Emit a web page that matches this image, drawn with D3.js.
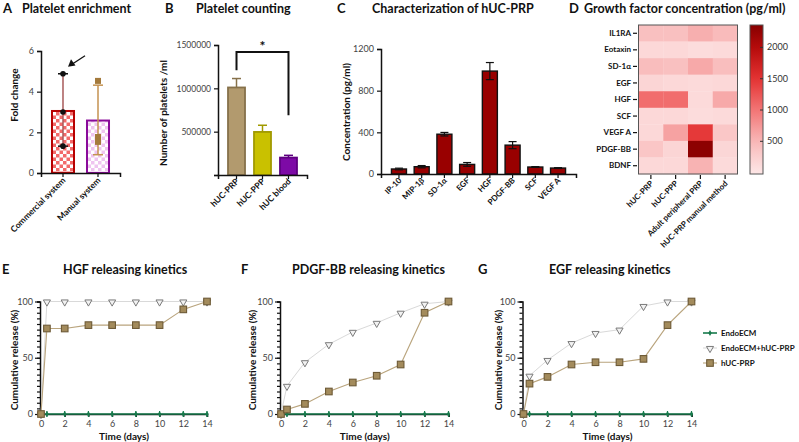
<!DOCTYPE html>
<html><head><meta charset="utf-8">
<script src="https://cdn.jsdelivr.net/npm/d3@7"></script>
<style>
body{margin:0;background:#fff;}
text{font-family:Lato,"Open Sans",sans-serif;}
</style></head><body>
<svg id="c" width="799" height="442"></svg>
<script>
// ---------- data ----------
const aCategories = ["Commercial system", "Manual system"];
const aMeans = [3.05, 2.58];
const aErrLow = [1.32, 0.9];
const aErrHigh = [4.88, 4.32];
const aPointsCommercial = [4.88, 3.0, 1.32];
const aPointsManual = [4.53, 1.77, 1.53];
const aTicks = [0, 2, 4, 6];

const bCategories = ["hUC-PRP", "hUC-PPP", "hUC blood"];
const bMeans = [1010000, 497000, 201000];
const bErr = [103000, 77000, 26000];
const bTicks = [0, 500000, 1000000, 1500000];

const cCategories = ["IP-10", "MIP-1β", "SD-1α", "EGF", "HGF", "PDGF-BB", "SCF", "VEGF A"];
const cMeans = [48, 70, 382, 92, 988, 277, 67, 57];
const cErr = [8, 11, 17, 18, 82, 34, 4, 4];
const cTicks = [0, 400, 800, 1200];

const dRows = ["IL1RA", "Eotaxin", "SD-1α", "EGF", "HGF", "SCF", "VEGF A", "PDGF-BB", "BDNF"];
const dCols = ["hUC-PRP", "hUC-PPP", "Adult peripheral PRP", "hUC-PRP manual method"];
const dValues = [
  [400, 400, 550, 450],
  [150, 150, 100, 130],
  [430, 400, 600, 420],
  [180, 150, 130, 150],
  [1050, 1050, 130, 600],
  [150, 150, 100, 130],
  [150, 650, 1450, 320],
  [330, 180, 2300, 170],
  [150, 150, 520, 120]
];
const dTicks = [500, 1000, 1500, 2000];

const days = [0, 0.5, 2, 4, 6, 8, 10, 12, 14];
const hgfEndo = [0, 0, 0, 0, 0, 0, 0, 0, 0];
const hgfEndoPrp = [0, 100, 100, 100, 100, 100, 100, 100, 100];
const hgfPrp = [0, 76, 76, 79, 79, 79, 79, 93, 100];
const pdgfEndo = [0, 0, 0, 0, 0, 0, 0, 0, 0];
const pdgfEndoPrp = [0, 25, 46, 62, 73, 81, 90, 98, 100];
const pdgfPrp = [0, 4, 9, 20, 28, 34, 44, 90, 100];
const egfEndo = [0, 0, 0, 0, 0, 0, 0, 0, 0];
const egfEndoPrp = [0, 34, 48, 63, 72, 75, 96, 100, 100];
const egfPrp = [0, 27, 33, 44, 46, 46, 49, 79, 100];
const kTicks = [0, 2, 4, 6, 8, 10, 12, 14];
const kYTicks = [0, 50, 100];
const seriesNames = ["EndoECM", "EndoECM+hUC-PRP", "hUC-PRP"];

// ---------- helpers ----------
const svg = d3.select("#c");
svg.append("rect").attr("width", 799).attr("height", 442).attr("fill", "#fff");
const defs = svg.append("defs");
const fmt = d3.format("d");

function styleAxis(g, fs) {
  g.select(".domain").attr("stroke", "#111").attr("stroke-width", 1.5);
  g.selectAll(".tick line").attr("stroke", "#111").attr("stroke-width", 1.2);
  g.selectAll(".tick text").attr("fill", "#444").attr("font-size", fs || 9)
    .style("font-family", "Lato, sans-serif");
}
function title(letter, lx, text, tx, y) {
  svg.append("text").attr("x", lx).attr("y", y).attr("font-weight", 700)
    .attr("font-size", 13).attr("fill", "#111").text(letter);
  svg.append("text").attr("x", tx).attr("y", y).attr("font-weight", 700)
    .attr("font-size", 12.5).attr("fill", "#111").text(text);
}
function yTitle(text, x, y) {
  svg.append("text").attr("transform", `translate(${x},${y}) rotate(-90)`)
    .attr("text-anchor", "middle").attr("font-weight", 700).attr("font-size", 10)
    .attr("fill", "#111").text(text);
}
function rotLabels(g, cats, xf, y, fs) {
  g.selectAll(null).data(cats).join("text")
    .attr("transform", d => `translate(${xf(d) + 3},${y}) rotate(-45)`)
    .attr("text-anchor", "end").attr("font-weight", 700).attr("font-size", fs)
    .attr("fill", "#111").text(d => d);
}
function checker(id, color) {
  const p = defs.append("pattern").attr("id", id).attr("width", 7).attr("height", 7)
    .attr("patternUnits", "userSpaceOnUse");
  p.append("rect").attr("width", 7).attr("height", 7).attr("fill", "#fff");
  p.append("rect").attr("width", 3.5).attr("height", 3.5).attr("fill", color);
  p.append("rect").attr("x", 3.5).attr("y", 3.5).attr("width", 3.5).attr("height", 3.5).attr("fill", color);
}
checker("chkRed", "#f26a6a");
checker("chkPur", "#efc4f0");

// ---------- Panel A ----------
title("A", 3, "Platelet enrichment", 22, 13);
{
  const g = svg.append("g");
  const y = d3.scaleLinear().domain([0, 6]).range([173, 51]);
  const x = d3.scaleBand().domain(aCategories).range([41, 120]).paddingInner(0.371).paddingOuter(0.314);
  const xc = d => x(d) + x.bandwidth() / 2;
  const fills = ["url(#chkRed)", "url(#chkPur)"];
  const strokes = ["#b80000", "#8a0a9a"];
  const errCol = ["#a85a5a", "#c49250"];
  g.selectAll(null).data(aCategories).join("rect")
    .attr("x", d => x(d)).attr("width", x.bandwidth())
    .attr("y", (d, i) => y(aMeans[i])).attr("height", (d, i) => y(0) - y(aMeans[i]))
    .attr("fill", (d, i) => fills[i]).attr("stroke", (d, i) => strokes[i]).attr("stroke-width", 2);
  aCategories.forEach((d, i) => {
    const cx = xc(d);
    g.append("line").attr("x1", cx).attr("x2", cx).attr("y1", y(aErrLow[i])).attr("y2", y(aErrHigh[i]))
      .attr("stroke", errCol[i]).attr("stroke-width", 1.5);
    [aErrLow[i], aErrHigh[i]].forEach(v => g.append("line").attr("x1", cx - 5).attr("x2", cx + 5)
      .attr("y1", y(v)).attr("y2", y(v)).attr("stroke", i === 0 ? "#111" : errCol[i]).attr("stroke-width", 1.5));
  });
  g.selectAll(null).data(aPointsCommercial).join("circle")
    .attr("cx", xc(aCategories[0])).attr("cy", d => y(d)).attr("r", 2.8).attr("fill", "#111");
  g.selectAll(null).data(aPointsManual).join("rect")
    .attr("x", xc(aCategories[1]) - 3).attr("y", d => y(d) - 3).attr("width", 6).attr("height", 6)
    .attr("fill", "#a47a3c");
  const ax = g.append("g").attr("transform", "translate(41,0)")
    .call(d3.axisLeft(y).tickValues(aTicks).tickSize(4).tickPadding(3).tickFormat(fmt));
  styleAxis(ax);
  const bx = g.append("g").attr("transform", `translate(0,${y(0)})`)
    .call(d3.axisBottom(x).tickSize(4).tickFormat(""));
  styleAxis(bx);
  rotLabels(g, aCategories, xc, 181, 8.5);
  // arrow annotation
  const tx = xc(aCategories[0]) + 5, ty = y(aPointsCommercial[0]) - 7;
  g.append("line").attr("x1", tx + 17).attr("y1", ty - 11).attr("x2", tx + 4).attr("y2", ty - 2.6)
    .attr("stroke", "#111").attr("stroke-width", 1.3);
  g.append("path").attr("d", `M${tx},${ty} L${tx + 3},${ty - 7.5} L${tx + 7.5},${ty - 1.2} Z`).attr("fill", "#111");
  yTitle("Fold change", 18, 95);
}

// ---------- Panel B ----------
title("B", 165, "Platelet counting", 196, 13);
{
  const g = svg.append("g");
  const y = d3.scaleLinear().domain([0, 1500000]).range([175, 45]);
  const x = d3.scaleBand().domain(bCategories).range([218, 307]).paddingInner(0.346).paddingOuter(0.385);
  const xc = d => x(d) + x.bandwidth() / 2;
  const fills = ["#b29a6e", "#c9c100", "#7d0aa6"];
  const strokes = ["#86714a", "#a19a00", "#5e0080"];
  bCategories.forEach((d, i) => {
    const cx = xc(d);
    g.append("line").attr("x1", cx).attr("x2", cx).attr("y1", y(bMeans[i])).attr("y2", y(bMeans[i] + bErr[i]))
      .attr("stroke", strokes[i]).attr("stroke-width", 1.5);
    g.append("line").attr("x1", cx - 4.5).attr("x2", cx + 4.5).attr("y1", y(bMeans[i] + bErr[i])).attr("y2", y(bMeans[i] + bErr[i]))
      .attr("stroke", strokes[i]).attr("stroke-width", 1.5);
  });
  g.selectAll(null).data(bCategories).join("rect")
    .attr("x", d => x(d)).attr("width", x.bandwidth())
    .attr("y", (d, i) => y(bMeans[i])).attr("height", (d, i) => y(0) - y(bMeans[i]))
    .attr("fill", (d, i) => fills[i]).attr("stroke", (d, i) => strokes[i]).attr("stroke-width", 1.8);
  const ax = g.append("g").attr("transform", "translate(218,0)")
    .call(d3.axisLeft(y).tickValues(bTicks).tickSize(4).tickPadding(3).tickFormat(d => d === 0 ? "" : fmt(d)));
  styleAxis(ax, 8.5);
  const bx = g.append("g").attr("transform", `translate(0,${y(0)})`)
    .call(d3.axisBottom(x).tickSize(4).tickFormat(""));
  styleAxis(bx);
  rotLabels(g, bCategories, xc, 182, 8.5);
  // significance bracket
  const x1 = xc(bCategories[0]), x2 = xc(bCategories[2]);
  g.append("path").attr("d", `M${x1},${y(1210000)} V${y(1420000)} H${x2} V${y(690000)}`)
    .attr("fill", "none").attr("stroke", "#111").attr("stroke-width", 2);
  g.append("text").attr("x", (x1 + x2) / 2).attr("y", y(1420000) - 1).attr("text-anchor", "middle")
    .attr("font-weight", 700).attr("font-size", 14).attr("fill", "#111").text("*");
  yTitle("Number of platelets /ml", 167, 113);
}

// ---------- Panel C ----------
title("C", 337, "Characterization of hUC-PRP", 372, 13);
{
  const g = svg.append("g");
  const y = d3.scaleLinear().domain([0, 1200]).range([174, 49]);
  const x = d3.scaleBand().domain(cCategories).range([381, 576]).paddingInner(0.34).paddingOuter(0.46);
  const xc = d => x(d) + x.bandwidth() / 2;
  g.selectAll(null).data(cCategories).join("rect")
    .attr("x", d => x(d)).attr("width", x.bandwidth())
    .attr("y", (d, i) => y(cMeans[i])).attr("height", (d, i) => y(0) - y(cMeans[i]))
    .attr("fill", "#990000").attr("stroke", "#111").attr("stroke-width", 1.4);
  cCategories.forEach((d, i) => {
    const cx = xc(d), lo = y(cMeans[i] - cErr[i]), hi = y(cMeans[i] + cErr[i]);
    g.append("line").attr("x1", cx).attr("x2", cx).attr("y1", lo).attr("y2", hi).attr("stroke", "#111").attr("stroke-width", 1.2);
    [lo, hi].forEach(v => g.append("line").attr("x1", cx - 4).attr("x2", cx + 4).attr("y1", v).attr("y2", v)
      .attr("stroke", "#111").attr("stroke-width", 1.2));
  });
  const ax = g.append("g").attr("transform", "translate(381,0)")
    .call(d3.axisLeft(y).tickValues(cTicks).tickSize(4).tickPadding(3).tickFormat(fmt));
  styleAxis(ax);
  const bx = g.append("g").attr("transform", `translate(0,${y(0)})`)
    .call(d3.axisBottom(x).tickSize(4).tickFormat(""));
  styleAxis(bx);
  rotLabels(g, cCategories, xc, 181, 8);
  yTitle("Concentration (pg/ml)", 350, 112);
}

// ---------- Panel D ----------
title("D", 569, "Growth factor concentration (pg/ml)", 584, 13);
{
  const g = svg.append("g");
  const yr = d3.scaleBand().domain(dRows).range([25, 174]);
  const xc = d3.scaleBand().domain(dCols).range([638.5, 737.5]);
  const color = d3.scaleLinear().domain([0, 500, 1000, 1500, 2000, 2350])
    .range(["#fde6e6", "#f8b6b6", "#f27474", "#e33232", "#b40a0a", "#870000"]).clamp(true);
  dRows.forEach((r, i) => dCols.forEach((c, j) => {
    g.append("rect").attr("x", xc(c)).attr("y", yr(r)).attr("width", xc.bandwidth() + 0.3).attr("height", yr.bandwidth() + 0.3)
      .attr("fill", color(dValues[i][j]));
  }));
  g.append("rect").attr("x", 638.5).attr("y", 25).attr("width", 99).attr("height", 149)
    .attr("fill", "none").attr("stroke", "#555").attr("stroke-width", 1);
  const ax = g.append("g").attr("transform", "translate(633,0)")
    .call(d3.axisLeft(yr).tickSize(4).tickPadding(2));
  ax.select(".domain").remove();
  ax.selectAll(".tick line").attr("stroke", "#111").attr("stroke-width", 1.2).attr("transform", "translate(4,0)");
  ax.selectAll(".tick text").attr("font-weight", 700).attr("font-size", 8).attr("fill", "#111").attr("x", -2);
  const bx = g.append("g").attr("transform", "translate(0,175)")
    .call(d3.axisBottom(xc).tickSize(4).tickFormat(""));
  bx.select(".domain").remove();
  bx.selectAll(".tick line").attr("stroke", "#111").attr("stroke-width", 1.2);
  rotLabels(g, dCols, d => xc(d) + xc.bandwidth() / 2, 184, 8);
  // colour bar
  const cb = d3.scaleLinear().domain([-30, 2350]).range([174, 25]);
  const grad = defs.append("linearGradient").attr("id", "cbg").attr("x1", 0).attr("x2", 0).attr("y1", 1).attr("y2", 0);
  d3.range(0, 1.0001, 0.05).forEach(t => {
    const v = -30 + t * 2380;
    grad.append("stop").attr("offset", t).attr("stop-color", color(Math.max(0, v)));
  });
  g.append("rect").attr("x", 750).attr("y", 25).attr("width", 13).attr("height", 149)
    .attr("fill", "url(#cbg)").attr("stroke", "#555").attr("stroke-width", 1);
  const cax = g.append("g").attr("transform", "translate(763,0)")
    .call(d3.axisRight(cb).tickValues(dTicks).tickSize(-3).tickPadding(4).tickFormat(fmt));
  cax.select(".domain").remove();
  cax.selectAll(".tick line").attr("stroke", "#333").attr("stroke-width", 1);
  cax.selectAll(".tick text").attr("font-size", 9).attr("fill", "#333");
}

// ---------- Kinetics panels ----------
const kColors = { endo: "#177a4c", tri: "#7a7a7a", triLine: "#d9d9d9", sq: "#a38b5c", sqStroke: "#6d5a36", sqLine: "#b9a47d" };
function kinetics(x0, x1, endo, endoPrp, prp, ytx) {
  const g = svg.append("g");
  const x = d3.scaleLinear().domain([0, 14]).range([x0, x1]);
  const y = d3.scaleLinear().domain([0, 100]).range([414, 301.5]);
  const minor = g.append("g").attr("transform", `translate(${x0 - 1},0)`)
    .call(d3.axisLeft(y).tickValues(d3.range(0, 101, 5)).tickSize(3).tickFormat(""));
  styleAxis(minor);
  const major = g.append("g").attr("transform", `translate(${x0 - 1},0)`)
    .call(d3.axisLeft(y).tickValues(kYTicks).tickSize(5).tickPadding(2));
  styleAxis(major);
  major.select(".domain").remove();
  const bx = g.append("g").attr("transform", `translate(0,${y(0)})`)
    .call(d3.axisBottom(x).tickValues(kTicks).tickSize(3).tickPadding(4));
  styleAxis(bx);
  const line = vals => d3.line().x((d, i) => x(days[i])).y(d => y(d))(vals);
  g.append("path").attr("d", line(endoPrp)).attr("fill", "none").attr("stroke", kColors.triLine).attr("stroke-width", 1);
  g.append("path").attr("d", line(prp)).attr("fill", "none").attr("stroke", kColors.sqLine).attr("stroke-width", 1.1);
  g.append("path").attr("d", line(endo)).attr("fill", "none").attr("stroke", kColors.endo).attr("stroke-width", 1.6);
  endo.forEach((v, i) => {
    g.append("line").attr("x1", x(days[i])).attr("x2", x(days[i])).attr("y1", y(v) - 3).attr("y2", y(v) + 3)
      .attr("stroke", kColors.endo).attr("stroke-width", 1.2);
    g.append("path").attr("d", d3.symbol(d3.symbolDiamond, 10)()).attr("transform", `translate(${x(days[i])},${y(v)})`).attr("fill", kColors.endo);
  });
  endoPrp.forEach((v, i) => {
    g.append("path").attr("d", d3.symbol(d3.symbolTriangle, 22)())
      .attr("transform", `translate(${x(days[i])},${y(v) + 0.5}) rotate(180)`)
      .attr("fill", "#f2f2f2").attr("stroke", kColors.tri).attr("stroke-width", 1);
  });
  prp.forEach((v, i) => {
    g.append("rect").attr("x", x(days[i]) - 3.3).attr("y", y(v) - 3.3).attr("width", 6.6).attr("height", 6.6)
      .attr("fill", kColors.sq).attr("stroke", kColors.sqStroke).attr("stroke-width", 1.1);
  });
  g.append("text").attr("x", (x0 + x1) / 2).attr("y", 440).attr("text-anchor", "middle")
    .attr("font-weight", 700).attr("font-size", 10).attr("fill", "#111").text("Time (days)");
  yTitle("Cumulative release (%)", ytx, 360);
}
title("E", 2, "HGF releasing kinetics", 63, 274);
kinetics(41, 207, hgfEndo, hgfEndoPrp, hgfPrp, 18);
title("F", 241, "PDGF-BB releasing kinetics", 292, 274);
kinetics(281, 448.5, pdgfEndo, pdgfEndoPrp, pdgfPrp, 256);
title("G", 478, "EGF releasing kinetics", 549, 274);
kinetics(523.5, 691.5, egfEndo, egfEndoPrp, egfPrp, 502);

// legend
{
  const g = svg.append("g");
  const ly = d3.scalePoint().domain(seriesNames).range([333, 363]);
  seriesNames.forEach((n, i) => {
    const yy = ly(n);
    g.append("line").attr("x1", 703).attr("x2", 717).attr("y1", yy).attr("y2", yy)
      .attr("stroke", [kColors.endo, kColors.triLine, kColors.sqLine][i]).attr("stroke-width", i === 0 ? 1.6 : 1.1);
    if (i === 0) {
      g.append("path").attr("d", d3.symbol(d3.symbolDiamond, 10)()).attr("transform", `translate(710,${yy})`).attr("fill", kColors.endo);
    } else if (i === 1) {
      g.append("path").attr("d", d3.symbol(d3.symbolTriangle, 22)()).attr("transform", `translate(710,${yy + 0.5}) rotate(180)`)
        .attr("fill", "#f2f2f2").attr("stroke", kColors.tri);
    } else {
      g.append("rect").attr("x", 706.7).attr("y", yy - 3.3).attr("width", 6.6).attr("height", 6.6)
        .attr("fill", kColors.sq).attr("stroke", kColors.sqStroke).attr("stroke-width", 1.1);
    }
    g.append("text").attr("x", 721).attr("y", yy + 3).attr("font-weight", 700).attr("font-size", 8)
      .attr("fill", "#111").text(n);
  });
}
</script></body></html>
